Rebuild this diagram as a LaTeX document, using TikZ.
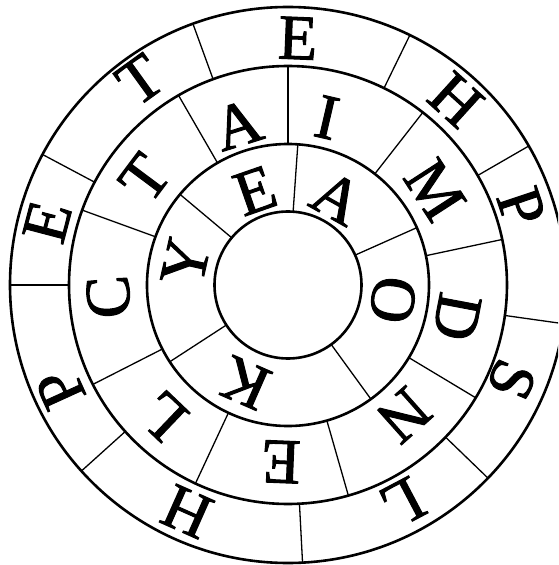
\documentclass[tikz,border=0pt]{standalone}
\usepackage{fontspec}
\setmainfont{Liberation Serif}
\newfontfamily\ringfont[FakeBold=1.5]{Liberation Serif}
\begin{document}
\begin{tikzpicture}[x=1pt,y=1pt,
  ringline/.style={draw, circle, line width=2.6pt, inner sep=0pt, outer sep=0pt},
  spoke/.style={line width=1.3pt},
  letter/.style={inner sep=0pt, outer sep=0pt, anchor=center, font=\ringfont\fontsize{64}{64}\selectfont}]
\useasboundingbox (-288,-280) rectangle (270,285);
\clip (-288,-280) rectangle (270,285);
\coordinate (c) at (0,0);
\node[ringline, minimum size=147pt] (r0) at (c) {};
\node[ringline, minimum size=282pt] (r1) at (c) {};
\node[ringline, minimum size=438pt] (r2) at (c) {};
\node[ringline, minimum size=556pt] (r3) at (c) {};
% spokes
\foreach \a in {24,86,140,213,306.5} \draw[spoke] (r0.\a) -- (r1.\a);
\foreach \a in {12.5,52.7,90,120.8,160.5,207.5,245.3,286.7,329.5} \draw[spoke] (r1.\a) -- (r2.\a);
\foreach \a in {30.1,64.3,110.6,152.2,180,222.1,273.3,316,352.2} \draw[spoke] (r2.\a) -- (r3.\a);
% outer ring letters
\foreach \t/\a/\r [count=\i] in {E/87.7/247,H/47.8/250,P/18.5/246,S/337/243,L/297.8/246,H/246/248,P/204.5/250,E/165.3/249,T/125.8/253}
  \node[letter, rotate=\a-90] (o\i) at (\a:\r) {\t};
% middle ring letters
\foreach \t/\a/\r [count=\i] in {I/76.9/172,A/107.4/168,T/143.2/179,C/183.8/180,L/226.3/181,E/267.7/177,N/311.7/174,D/349.3/172,M/32.9/175}
  \node[letter, rotate=\a-90] (m\i) at (\a:\r) {\t};
% inner ring letters
\foreach \t/\a/\r [count=\i] in {E/109.2/100,A/60.6/100,Y/167.4/105,K/246.3/107,O/351.9/106}
  \node[letter, rotate=\a-90] (n\i) at (\a:\r) {\t};
\end{tikzpicture}
\end{document}
